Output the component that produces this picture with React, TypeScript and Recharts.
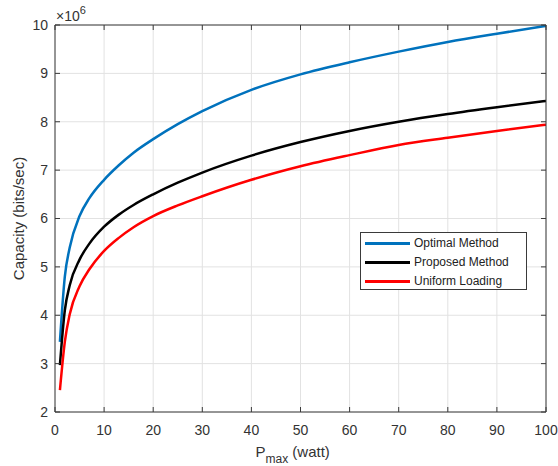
import React from 'react';
import {
  LineChart,
  Line,
  XAxis,
  YAxis,
  CartesianGrid,
  Label,
} from 'recharts';

// Pmax values (watt)
const pmax = [1, 2, 3, 5, 7, 10, 13, 16, 20, 25, 30, 40, 50, 60, 70, 80, 90, 100];

// capacities, in units of 10^6 bits/sec
const optimal = [3.45, 4.8, 5.4, 6.05, 6.42, 6.8, 7.1, 7.36, 7.64, 7.95, 8.22, 8.66, 8.98, 9.23, 9.45, 9.65, 9.82, 9.98];
const proposed = [2.97, 4.1, 4.62, 5.15, 5.48, 5.83, 6.08, 6.28, 6.5, 6.74, 6.95, 7.3, 7.58, 7.81, 8.0, 8.16, 8.3, 8.43];
const uniform = [2.45, 3.45, 4.02, 4.6, 4.95, 5.33, 5.6, 5.82, 6.05, 6.27, 6.46, 6.8, 7.08, 7.31, 7.52, 7.67, 7.81, 7.94];

const xTicks = [0, 10, 20, 30, 40, 50, 60, 70, 80, 90, 100];
const yTicks = [2, 3, 4, 5, 6, 7, 8, 9, 10];

const series = [
  { key: 'optimal', name: 'Optimal Method', color: '#0072BD' },
  { key: 'proposed', name: 'Proposed Method', color: '#000000' },
  { key: 'uniform', name: 'Uniform Loading', color: '#FF0000' },
];

const data = pmax.map((p, i) => ({
  p,
  optimal: optimal[i],
  proposed: proposed[i],
  uniform: uniform[i],
}));

const FONT = '"Liberation Sans", Arial, Helvetica, sans-serif';
const AXIS = '#3a3a3a';
const TEXT = '#333333';

const renderYLabel = (props: any) => {
  const { x, y, width, height } = props.viewBox;
  const cx = x + 18;
  const cy = y + height / 2;
  return (
    <g fontFamily={FONT} fill={TEXT}>
      <text
        x={cx}
        y={cy}
        transform={`rotate(-90 ${cx} ${cy})`}
        textAnchor="middle"
        dominantBaseline="central"
        fontSize={15}
      >
        Capacity (bits/sec)
      </text>
      <text x={x + width + 1} y={y - 4} fontSize={14}>
        ×10
        <tspan dy={-7} fontSize={11}>6</tspan>
      </text>
    </g>
  );
};

const renderXLabel = (props: any) => {
  const { x, y, width } = props.viewBox;
  return (
    <text x={x + width / 2 - 45} y={y + 45} fontFamily={FONT} fill={TEXT} fontSize={15}>
      P
      <tspan dy={6} fontSize={12}>max</tspan>
      <tspan dy={-6}> (watt)</tspan>
    </text>
  );
};

const LegendBox = () => (
  <div
    style={{
      position: 'absolute',
      left: 360,
      top: 232,
      width: 167,
      height: 58,
      boxSizing: 'border-box',
      border: `1px solid ${AXIS}`,
      background: '#fff',
      padding: '1px 0 0 4px',
      fontFamily: FONT,
      fontSize: 12,
      color: '#222',
      lineHeight: '19px',
    }}
  >
    {series.map((s) => (
      <div key={s.key} style={{ display: 'flex', alignItems: 'center' }}>
        <span
          style={{
            display: 'inline-block',
            width: 45,
            height: 3,
            background: s.color,
            marginRight: 4,
          }}
        />
        <span>{s.name}</span>
      </div>
    ))}
  </div>
);

export default function App() {
  return (
    <div style={{ position: 'absolute', left: 0, top: 0, width: 558, height: 466, background: '#fff' }}>
      <LineChart
        width={558}
        height={466}
        data={data}
        margin={{ top: 0, right: 0, bottom: 0, left: 0 }}
      >
        <CartesianGrid stroke="#e2e2e2" strokeWidth={1} />
        <XAxis
          dataKey="p"
          type="number"
          domain={[0, 100]}
          ticks={xTicks}
          height={54}
          stroke={AXIS}
          tickSize={-5}
          tickMargin={18}
          tick={{ fill: TEXT, fontSize: 14, fontFamily: FONT }}
          allowDataOverflow
        >
          <Label content={renderXLabel} />
        </XAxis>
        <XAxis
          xAxisId="top"
          orientation="top"
          dataKey="p"
          type="number"
          domain={[0, 100]}
          ticks={xTicks}
          height={25}
          stroke={AXIS}
          tickSize={-5}
          tickFormatter={() => ''}
          allowDataOverflow
        />
        <YAxis
          type="number"
          domain={[2, 10]}
          ticks={yTicks}
          width={55}
          stroke={AXIS}
          tickSize={-5}
          tickMargin={12}
          tick={{ fill: TEXT, fontSize: 14, fontFamily: FONT }}
          allowDataOverflow
        >
          <Label content={renderYLabel} />
        </YAxis>
        <YAxis
          yAxisId="right"
          orientation="right"
          type="number"
          domain={[2, 10]}
          ticks={yTicks}
          width={12}
          stroke={AXIS}
          tickSize={-5}
          tickFormatter={() => ''}
          allowDataOverflow
        />
        {series.map((s) => (
          <Line
            key={s.key}
            dataKey={s.key}
            name={s.name}
            type="monotone"
            stroke={s.color}
            strokeWidth={2.5}
            dot={false}
            isAnimationActive={false}
          />
        ))}
      </LineChart>
      <LegendBox />
    </div>
  );
}
